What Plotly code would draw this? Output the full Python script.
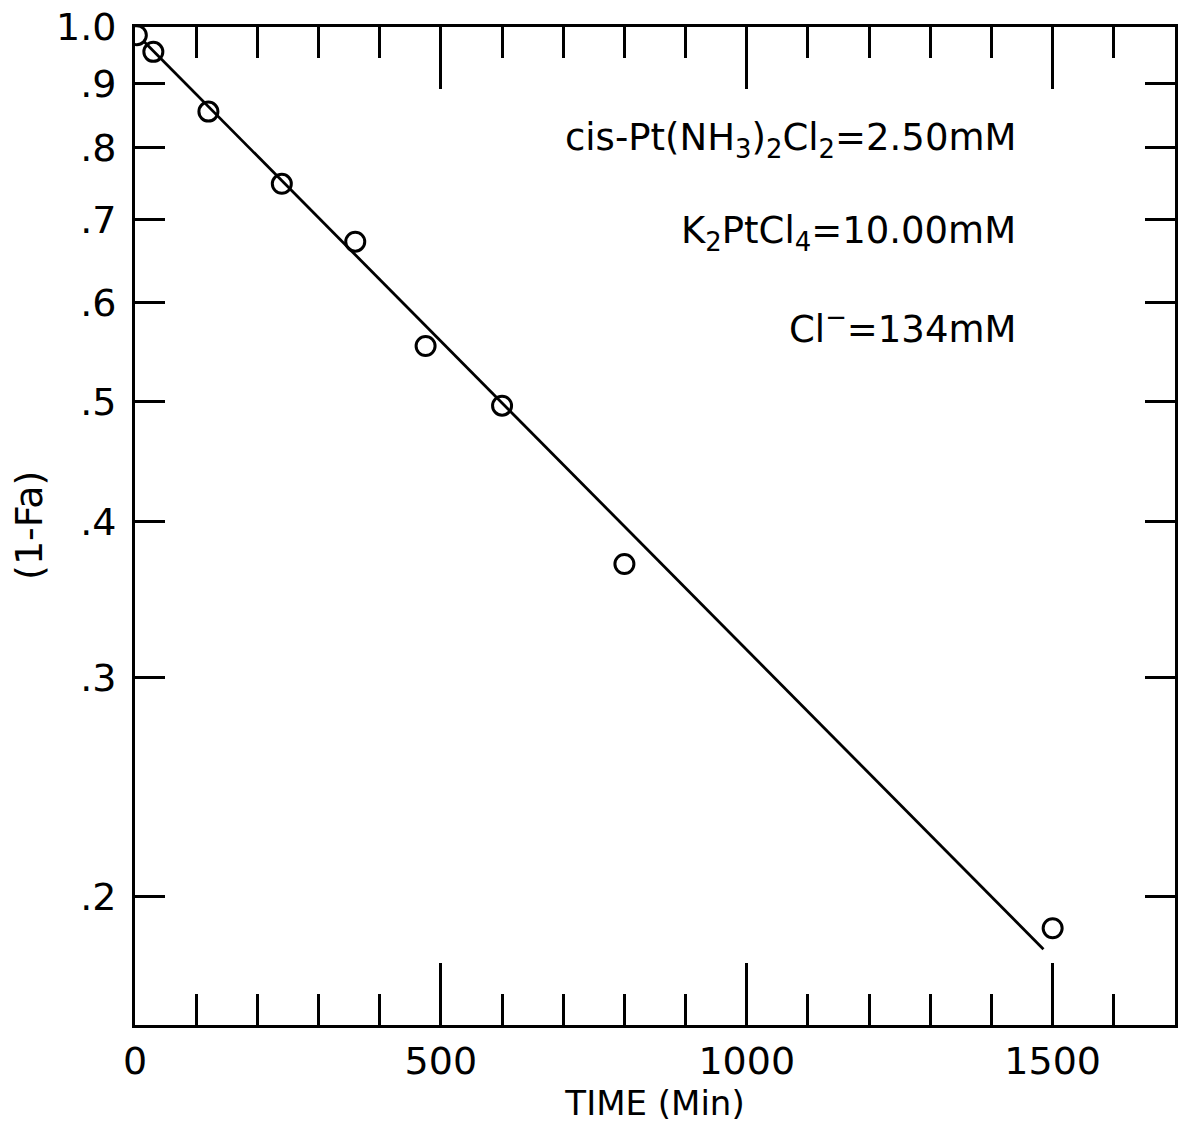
import plotly.graph_objects as go

# Observed fraction remaining (1 - Fa) vs. time
time_min = [3, 30, 120, 240, 360, 475, 600, 800, 1500]
one_minus_fa = [0.985, 0.955, 0.855, 0.748, 0.672, 0.554, 0.496, 0.370, 0.1885]

# First-order fit line (end points)
fit_time = [15, 1485]
fit_value = [0.973, 0.1813]

y_tickvals = [1.0, 0.9, 0.8, 0.7, 0.6, 0.5, 0.4, 0.3, 0.2]
y_ticktext = ["1.0", ".9", ".8", ".7", ".6", ".5", ".4", ".3", ".2"]
x_tickvals = [0, 500, 1000, 1500]

conditions = [
    "cis-Pt(NH<sub>3</sub>)<sub>2</sub>Cl<sub>2</sub>=2.50mM",
    "K<sub>2</sub>PtCl<sub>4</sub>=10.00mM",
    "Cl<sup>−</sup>=134mM",
]

FONT = "DejaVu Sans"
INK = "black"
X_RANGE = [0, 1700]
Y_RANGE = [-0.8025, 0.0]

fig = go.Figure()
fig.add_trace(go.Scatter(
    x=fit_time, y=fit_value, mode="lines",
    line=dict(color=INK, width=2.8), showlegend=False, hoverinfo="skip",
))
fig.add_trace(go.Scatter(
    x=time_min, y=one_minus_fa, mode="markers",
    marker=dict(symbol="circle-open", size=19, color=INK, line=dict(width=3, color=INK)),
    showlegend=False,
))

common_x = dict(range=X_RANGE, showgrid=False, zeroline=False, linecolor=INK, linewidth=3,
                ticks="inside", ticklen=62, tickwidth=3, tickcolor=INK,
                tickvals=x_tickvals,
                minor=dict(dtick=100, ticks="inside", ticklen=31, tickwidth=3, tickcolor=INK))

fig.update_layout(
    width=1180, height=1129,
    margin=dict(l=135, r=5, t=25, b=104),
    paper_bgcolor="white", plot_bgcolor="white",
    font=dict(family=FONT, color=INK, size=36),
    xaxis=dict(**common_x, showline=True,
               ticktext=["0", "500", "1000", "1500"], tickfont=dict(size=38),
               title=dict(text="TIME (Min)", font=dict(size=34), standoff=8)),
    xaxis2=dict(**common_x, overlaying="x", side="top", showline=True,
                showticklabels=False, matches="x"),
    yaxis=dict(type="log", range=Y_RANGE, showgrid=False, zeroline=False,
               showline=True, linecolor=INK, linewidth=3,
               ticks="inside", ticklen=30, tickwidth=3, tickcolor=INK,
               tickvals=y_tickvals, ticktext=y_ticktext, tickfont=dict(size=38),
               ticklabelstandoff=8),
    yaxis2=dict(type="log", range=Y_RANGE, overlaying="y", side="right", showgrid=False,
                zeroline=False, showline=True, linecolor=INK, linewidth=3,
                ticks="inside", ticklen=30, tickwidth=3, tickcolor=INK,
                tickvals=y_tickvals, showticklabels=False),
)

# Invisible anchor trace so the mirrored axes are drawn
fig.add_trace(go.Scatter(x=[None], y=[None], xaxis="x2", yaxis="y2", showlegend=False))

# Vertical axis title
fig.add_annotation(
    text="(1-Fa)", xref="paper", yref="paper", x=-0.102, y=0.501,
    xanchor="center", yanchor="middle", textangle=-90, showarrow=False,
    font=dict(size=38, family=FONT, color=INK),
)

for i, txt in enumerate(conditions):
    fig.add_annotation(
        text=txt, xref="paper", yref="paper", x=0.849, y=0.887 - 0.0935 * i,
        xanchor="right", yanchor="middle", showarrow=False,
        font=dict(size=37, family=FONT, color=INK),
    )

fig.write_html("out.html")
